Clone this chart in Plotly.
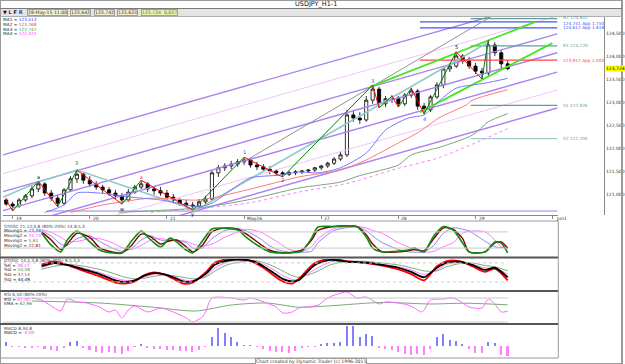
import plotly.graph_objects as go

W, H = 625, 364


def PX(x):
    return x / W


def PY(y):
    return 1 - y / H


# ---------------- data ----------------
# two-hour candles; x = hour index along the chart
bar_hours = list(range(1, 158, 2))
opens = [120.87, 120.78, 120.74, 120.87, 120.96, 121.11, 121.22, 121.02, 120.91, 120.80,
         121.09, 121.33, 121.43, 121.30, 121.22, 121.15, 121.09, 121.02, 120.96, 120.87,
         121.04, 121.15, 121.22, 121.11, 121.07, 121.02, 120.93, 120.87, 120.80, 120.76,
         120.74, 120.83, 120.89, 121.46, 121.57, 121.61, 121.65, 121.70, 121.74, 121.63,
         121.59, 121.54, 121.50, 121.46, 121.43, 121.46, 121.48, 121.50, 121.52, 121.57,
         121.61, 121.67, 121.76, 121.85, 122.72, 122.65, 122.61, 123.04, 123.28, 122.96,
         123.07, 123.09, 122.96, 123.15, 123.24, 122.91, 122.83, 123.11, 123.37, 123.72,
         123.78, 124.00, 123.89, 123.78, 123.67, 123.63, 124.24, 124.07, 123.83]
highs = [120.91, 120.83, 120.91, 121.00, 121.17, 121.28, 121.26, 121.09, 120.98, 121.13,
         121.39, 121.52, 121.48, 121.39, 121.28, 121.20, 121.15, 121.09, 121.02, 121.11,
         121.20, 121.30, 121.26, 121.17, 121.15, 121.09, 121.00, 120.91, 120.87, 120.83,
         120.89, 120.96, 121.52, 121.63, 121.67, 121.72, 121.76, 121.80, 121.78, 121.70,
         121.65, 121.61, 121.54, 121.50, 121.50, 121.52, 121.52, 121.54, 121.59, 121.63,
         121.70, 121.80, 121.91, 122.83, 122.83, 122.78, 123.13, 123.37, 123.33, 123.13,
         123.15, 123.13, 123.20, 123.30, 123.28, 122.98, 123.15, 123.43, 123.78, 123.85,
         124.09, 124.04, 123.98, 123.85, 123.74, 124.35, 124.30, 124.13, 123.91]
lows = [120.74, 120.63, 120.70, 120.83, 120.91, 121.04, 120.96, 120.85, 120.72, 120.76,
        121.04, 121.24, 121.22, 121.15, 121.09, 121.02, 120.96, 120.89, 120.78, 120.83,
        121.00, 121.11, 121.04, 120.98, 120.96, 120.87, 120.80, 120.74, 120.70, 120.65,
        120.70, 120.78, 120.85, 121.37, 121.50, 121.54, 121.59, 121.63, 121.57, 121.52,
        121.50, 121.43, 121.39, 121.37, 121.39, 121.41, 121.43, 121.46, 121.48, 121.52,
        121.57, 121.63, 121.72, 121.80, 122.57, 122.52, 122.57, 122.96, 122.87, 122.89,
        122.98, 122.89, 122.91, 123.09, 122.83, 122.74, 122.78, 123.07, 123.30, 123.65,
        123.74, 123.83, 123.72, 123.61, 123.50, 123.57, 124.00, 123.74, 123.69]
closes = [120.78, 120.74, 120.87, 120.96, 121.11, 121.22, 121.02, 120.91, 120.80, 121.09,
          121.33, 121.43, 121.30, 121.22, 121.15, 121.09, 121.02, 120.96, 120.87, 121.04,
          121.15, 121.22, 121.11, 121.07, 121.02, 120.93, 120.87, 120.80, 120.76, 120.74,
          120.83, 120.89, 121.46, 121.57, 121.61, 121.65, 121.70, 121.74, 121.63, 121.59,
          121.54, 121.50, 121.46, 121.43, 121.46, 121.48, 121.50, 121.52, 121.57, 121.61,
          121.67, 121.76, 121.85, 122.72, 122.65, 122.61, 123.04, 123.28, 122.96, 123.07,
          123.09, 122.96, 123.15, 123.24, 122.91, 122.83, 123.11, 123.37, 123.72, 123.78,
          124.00, 123.89, 123.78, 123.67, 123.63, 124.24, 124.07, 123.83, 123.724]

day_ticks = [3, 27, 51, 75, 99, 123, 147, 171]
day_labels = ["19", "20", "21", "May26", "27", "28", "29", "Jun1"]
price_ticks = [121.0, 121.5, 122.0, 122.5, 123.0, 123.5, 124.0, 124.5]

# moving averages
ma1_x = [13, 19, 23, 30, 40, 49, 57, 61, 65, 71, 77, 86, 92, 98, 105, 113, 119, 126, 131, 135, 141, 150, 157]
ma1_v = [120.60, 120.76, 121.02, 121.02, 120.93, 120.87, 120.76, 120.72, 120.80, 121.09, 121.35, 121.41,
         121.48, 121.46, 121.57, 121.89, 122.39, 122.65, 122.72, 122.98, 123.30, 123.41, 123.513]
ma2_x = [21, 31, 46, 61, 76, 92, 105, 113, 119, 123, 129, 136, 144, 146, 157]
ma2_v = [120.60, 120.76, 120.91, 120.87, 121.09, 121.37, 121.52, 121.74, 121.96, 122.11, 122.33, 122.67,
         122.93, 123.04, 123.268]
ma3_x = [36, 61, 76, 92, 105, 111, 123, 127, 136, 146, 151, 157]
ma3_v = [120.60, 120.70, 120.87, 121.13, 121.26, 121.40, 121.63, 121.85, 122.02, 122.28, 122.57, 122.747]
ma4_x = [46, 76, 92, 105, 111, 121, 136, 157]
ma4_v = [120.60, 120.80, 121.04, 121.20, 121.30, 121.52, 121.80, 122.421]

# trend / channel lines (hour, price)
chan_x = [0, 172.4]
purple_start = [121.85, 121.05, 120.64, 120.23, 119.44]
purple_end = [125.27, 124.48, 124.07, 123.65, 122.87]
pink_start = [121.44, 119.84]
pink_end = [124.87, 123.26]
gch_upper_x = [114.2, 165.6]
gch_upper_v = [123.33, 124.74]
gch_lower_x = [129.7, 170.9]
gch_lower_v = [122.78, 124.28]
gray_x = [75.9, 151.7]
gray_v = [121.74, 124.85]
teal_x = [0, 11, 23, 60, 151]
teal_v = [120.93, 121.26, 121.52, 120.65, 124.30]

zig_x = [1, 3, 11, 17, 23, 37, 43, 59, 75, 87, 115, 117, 121, 123, 127, 131, 141, 149, 151]
zig_v = [120.87, 120.63, 121.28, 120.72, 121.52, 120.78, 121.30, 120.65, 121.80, 121.37,
         123.37, 122.87, 123.13, 122.89, 123.30, 122.74, 124.09, 123.50, 124.35]

swing_x = [11, 23, 37, 43, 59, 75, 87, 115, 131, 141]
swing_v = [121.36, 121.68, 120.68, 121.38, 120.56, 121.92, 121.30, 123.46, 122.64, 124.20]
swing_t = ["a", "3", "w", "x", "y", "1", "2", "3", "4", "5"]
swing_c = ["#000000", "#008000", "#000000", "#ff0000", "#000000", "#3355ff", "#3355ff", "#3355ff",
           "#3355ff", "#000000"]

level_text = ["R2 124,812", "124,741 App 1.750", "124,612 App 1.618", "R1 124,220",
              "123,912 App 1.000", "S1 122,926", "S2 122,204"]
level_v = [124.812, 124.741, 124.612, 124.220, 123.912, 122.926, 122.204]
level_x0 = [145.5, 129.7, 129.7, 145.5, 129.7, 145.5, 145.5]
level_col = ["#5f9ea0", "#4455ee", "#4455ee", "#5f9ea0", "#ff4444", "#5f9ea0", "#a8cccc"]
support_x = [13.6, 172.4]
support_v = [120.63, 120.63]

# stochastic panel
st_x = [12, 15, 18, 20, 23, 27, 30, 34, 37, 40, 43, 46, 49, 52, 54, 57, 59, 62, 65, 69, 73, 76, 80, 83,
        86, 89, 93, 96, 98, 103, 110, 113, 115, 118, 123, 126, 128, 131, 134, 137, 140, 143, 145,
        150, 153, 155, 157]
st_green = [76, 31, 6, 50, 83, 43, 13, 2, 2, 46, 83, 50, 24, 57, 43, 13, 2, 46, 91, 94, 87, 57, 24, 6,
            2, 2, 9, 57, 98, 100, 100, 61, 20, 6, 9, 13, 20, 6, 65, 100, 87, 39, 6, 6, 43, 39, 2]
st_red = [80, 50, 15, 35, 75, 60, 22, 6, 3, 30, 72, 62, 35, 48, 50, 25, 6, 30, 80, 94, 90, 70, 35, 12,
          4, 3, 13, 50, 85, 100, 100, 70, 35, 6, 6, 10, 15, 10, 55, 95, 90, 55, 6, 6, 39, 43, 20]
st_blue = [85, 65, 35, 30, 55, 65, 45, 20, 8, 18, 50, 65, 50, 45, 50, 40, 20, 20, 55, 85, 93, 82, 55, 28,
           12, 5, 5, 8, 40, 85, 98, 85, 65, 40, 15, 6, 5, 6, 30, 75, 95, 90, 83, 45, 25, 22, 20]
st_mag = [88, 78, 60, 45, 45, 55, 55, 40, 22, 15, 30, 50, 55, 50, 48, 45, 35, 28, 35, 60, 80, 90, 80, 60,
          38, 15, 8, 25, 55, 92, 100, 95, 85, 75, 40, 25, 15, 5, 8, 25, 40, 75, 83, 80, 50, 25, 20]

# second oscillator panel
os_x = [12, 16, 21, 25, 30, 35, 38, 41, 44, 47, 50, 53, 56, 59, 63, 66, 70, 75, 78, 81, 84, 87, 90, 92,
        97, 102, 107, 113, 118, 123, 127, 131, 135, 138, 142, 146, 150, 153, 157]
os_black = [70, 80, 72, 60, 45, 25, 20, 25, 40, 48, 45, 35, 22, 22, 45, 75, 88, 90, 85, 70, 50, 30, 22, 26,
            74, 90, 84, 81, 74, 65, 52, 35, 65, 81, 84, 74, 58, 65, 35]
os_red = [75, 85, 70, 55, 38, 18, 15, 22, 42, 50, 44, 30, 15, 18, 50, 82, 92, 92, 82, 65, 42, 22, 15, 30,
          80, 94, 86, 80, 72, 60, 45, 25, 70, 86, 86, 70, 52, 62, 25]
os_green = [60, 70, 75, 70, 60, 45, 35, 30, 32, 38, 42, 40, 35, 30, 35, 55, 75, 85, 88, 82, 70, 55, 40, 35,
            50, 75, 85, 85, 80, 74, 65, 55, 55, 68, 78, 80, 72, 68, 55]
os_mag = [65, 78, 74, 64, 50, 32, 25, 26, 35, 45, 45, 38, 27, 24, 38, 65, 84, 88, 86, 76, 60, 40, 28, 28,
          60, 84, 86, 83, 76, 68, 58, 44, 58, 76, 82, 76, 64, 64, 45]

# RSI panel
rsi_x = [9, 12, 16, 18, 20, 23, 26, 30, 33, 35, 37, 39, 41, 45, 49, 53, 57, 59, 62, 63, 65, 71, 75, 77, 82,
         85, 87, 90, 92, 95, 98, 101, 107, 110, 113, 117, 119, 123, 126, 128, 130, 131, 133, 137, 140, 142,
         145, 149, 151, 153, 155, 157]
rsi_v = [80, 75, 55, 47.5, 77.5, 70, 67.5, 57.5, 45, 50, 30, 50, 60, 45, 55, 45, 30, 20, 32.5, 45, 80, 80,
         75, 80, 67.5, 57.5, 42.5, 45, 55, 58, 62, 80, 95, 80, 82.5, 65, 70, 67.5, 62.5, 55, 45, 50, 75,
         77.5, 80, 72.5, 57.5, 55, 77.5, 65, 45, 47]
ema_x = [9, 30, 46, 60, 71, 82, 92, 101, 113, 119, 133, 144, 157]
ema_v = [72.5, 67.5, 57.5, 47.5, 62.5, 67.5, 57, 60, 67, 69, 65, 67, 62.96]

# MACD histogram (one value per two-hour candle)
macd_hist = [0.04, -0.01, -0.01, -0.02, -0.02, -0.01, -0.03, -0.04, -0.05, -0.02,
             0.04, 0.05, -0.02, -0.04, -0.06, -0.07, -0.06, -0.07, -0.08, -0.05,
             -0.01, 0.02, -0.02, -0.03, -0.03, -0.04, -0.04, -0.05, -0.05, -0.06,
             -0.04, -0.01, 0.09, 0.18, 0.13, 0.09, 0.04, 0.01, 0.01, -0.01,
             -0.03, -0.05, -0.06, -0.06, -0.07, -0.05, -0.02, -0.01, -0.01, 0.02,
             0.03, 0.03, 0.04, 0.20, 0.20, 0.09, 0.12, 0.10, -0.02, -0.03,
             -0.04, -0.06, -0.08, -0.09, -0.08, -0.09, -0.03, 0.09, 0.12, 0.06,
             0.05, 0.02, -0.03, -0.07, -0.07, 0.04, 0.03, -0.09, -0.10]

# ---------------- figure ----------------
fig = go.Figure()
FONT = "DejaVu Sans"


def line(x, y, color, width=1, yaxis="y", dash=None, shape="linear"):
    fig.add_trace(go.Scatter(x=x, y=y, mode="lines", yaxis=yaxis, xaxis="x", hoverinfo="skip",
                             line=dict(color=color, width=width, dash=dash, shape=shape,
                                       smoothing=0.7 if shape == "spline" else None)))


for s, e in zip(pink_start, pink_end):
    line(chan_x, [s, e], "#f0c4f8", 1)
for s, e in zip(purple_start, purple_end):
    line(chan_x, [s, e], "#ab82f2", 1.4)

line(support_x, support_v, "#8585ff", 1)
for t, v, x0, c in zip(level_text, level_v, level_x0, level_col):
    line([x0, chan_x[1]], [v, v], c, 1.2)

line(gray_x, gray_v, "#929292", 1)
line(teal_x, teal_v, "#92caca", 1.6)
line(gch_upper_x, gch_upper_v, "#44e622", 1.8)
line(gch_lower_x, gch_lower_v, "#44e622", 1.8)

line(ma4_x, ma4_v, "#ff78ff", 1, dash="dot", shape="spline")
line(ma3_x, ma3_v, "#78a878", 1, shape="spline")
line(ma2_x, ma2_v, "#ff7878", 1, shape="spline")
line(ma1_x, ma1_v, "#7878ff", 1, shape="spline")

fig.add_trace(go.Candlestick(
    x=bar_hours, open=opens, high=highs, low=lows, close=closes, xaxis="x", yaxis="y",
    increasing=dict(line=dict(color="#000000", width=0.8), fillcolor="#ffffff"),
    decreasing=dict(line=dict(color="#000000", width=0.8), fillcolor="#000000"),
    whiskerwidth=0, hoverinfo="skip"))

# zig-zag swing lines: green for up legs, red for down legs
up_x, up_y, dn_x, dn_y = [], [], [], []
for i in range(len(zig_x) - 1):
    seg_x = [zig_x[i], zig_x[i + 1], None]
    seg_y = [zig_v[i], zig_v[i + 1], None]
    if zig_v[i + 1] > zig_v[i]:
        up_x += seg_x
        up_y += seg_y
    else:
        dn_x += seg_x
        dn_y += seg_y
line(up_x, up_y, "#008000", 1)
line(dn_x, dn_y, "#ff0000", 1)

# stochastic
line(st_x, st_mag, "#ff77ff", 1, yaxis="y2", shape="spline")
line(st_x, st_blue, "#8a8ae6", 1, yaxis="y2", shape="spline")
line(st_x, st_red, "#800000", 1.4, yaxis="y2", shape="spline")
line(st_x, st_green, "#108a10", 1.6, yaxis="y2", shape="spline")

# second oscillator
line(os_x, os_green, "#77b077", 1, yaxis="y3", shape="spline")
line(os_x, os_mag, "#ff77ff", 1, yaxis="y3", shape="spline")
line(os_x, os_red, "#ff0000", 1.8, yaxis="y3", shape="spline")
line(os_x, os_black, "#000000", 1.8, yaxis="y3", shape="spline")

# RSI
line(ema_x, ema_v, "#77aa77", 1, yaxis="y4", shape="spline")
line(rsi_x, rsi_v, "#ff66ff", 1, yaxis="y4", shape="spline")

# MACD histogram
fig.add_trace(go.Bar(x=bar_hours, y=macd_hist, xaxis="x", yaxis="y5", width=0.5, hoverinfo="skip",
                     marker=dict(color=["#8080ff" if v > 0 else "#ff80ff" for v in macd_hist],
                                 line=dict(width=0))))

shapes = []
anns = []

# level lines inside oscillator panels
for lv in (80, 20):
    shapes.append(dict(type="line", xref="x", yref="y2", x0=0, x1=157, y0=lv, y1=lv,
                       line=dict(color="#c8c8c8", width=1)))
    shapes.append(dict(type="line", xref="x", yref="y3", x0=0, x1=157, y0=lv, y1=lv,
                       line=dict(color="#cfcfcf", width=1, dash="dot")))
    shapes.append(dict(type="line", xref="x", yref="y4", x0=0, x1=157, y0=lv, y1=lv,
                       line=dict(color="#c8c8c8", width=1)))

# frame, separators, toolbar
shapes += [
    dict(type="rect", xref="paper", yref="paper", x0=PX(0), x1=PX(625), y0=PY(364), y1=PY(0),
         line=dict(color="#9a9a9a", width=2)),
    dict(type="rect", xref="paper", yref="paper", x0=PX(1), x1=PX(624), y0=PY(16), y1=PY(9),
         fillcolor="#e4e4e4", line=dict(width=0)),
    dict(type="line", xref="paper", yref="paper", x0=0, x1=1, y0=PY(8.5), y1=PY(8.5),
         line=dict(color="#7a7a7a", width=1)),
    dict(type="line", xref="paper", yref="paper", x0=0, x1=1, y0=PY(16.5), y1=PY(16.5),
         line=dict(color="#b0b0b0", width=1)),
    dict(type="line", xref="paper", yref="paper", x0=PX(0), x1=PX(561), y0=PY(221), y1=PY(221),
         line=dict(color="#9a9a9a", width=1)),
    dict(type="line", xref="paper", yref="paper", x0=PX(0), x1=PX(561), y0=PY(257.5), y1=PY(257.5),
         line=dict(color="#555555", width=2)),
    dict(type="line", xref="paper", yref="paper", x0=PX(0), x1=PX(561), y0=PY(291), y1=PY(291),
         line=dict(color="#555555", width=2)),
    dict(type="line", xref="paper", yref="paper", x0=PX(0), x1=PX(561), y0=PY(324), y1=PY(324),
         line=dict(color="#555555", width=2)),
    dict(type="line", xref="paper", yref="paper", x0=PX(0), x1=PX(561), y0=PY(358), y1=PY(358),
         line=dict(color="#9a9a9a", width=1)),
    dict(type="line", xref="paper", yref="paper", x0=PX(561), x1=PX(561), y0=PY(358), y1=PY(221),
         line=dict(color="#9a9a9a", width=1)),
]


def txt(x, y, s, color="#222222", size=4.3, anchor="left", bg=None, border=None):
    anns.append(dict(xref="paper", yref="paper", x=PX(x), y=PY(y), text=s, showarrow=False,
                     xanchor=anchor, yanchor="middle", font=dict(size=size, color=color, family=FONT),
                     bgcolor=bg, bordercolor=border, borderwidth=1 if border else 0, borderpad=0))


txt(318, 4.5, "USDJPY_H1-1", "#111111", 6.5, "center")
txt(3, 12.5, "<b>▼ <span style='color:#cc0000'>L</span> F <span style='color:#2244cc'>R</span></b>",
    "#111111", 5)
txt(27, 12.5, "28-May-15 11:00", "#333333", 4.6, bg="#f2efd2", border="#a0a0a0")
txt(70, 12.5, "123,642", "#333333", 4.6, bg="#f2efd2", border="#a0a0a0")
txt(94, 12.5, "123,742", "#333333", 4.6, bg="#f2efd2", border="#a0a0a0")
txt(118, 12.5, "123,623", "#333333", 4.6, bg="#f2efd2", border="#a0a0a0")
txt(142, 12.5, "123,724  0,027", "#2a8a2a", 4.6, bg="#eef0b8", border="#a0a0a0")

txt(3, 19.5, "MA1 = <span style='color:#3333ff'>123,513</span>")
txt(3, 24.3, "MA2 = <span style='color:#ff3333'>123,268</span>")
txt(3, 29.1, "MA3 = <span style='color:#339933'>122,747</span>")
txt(3, 33.9, "MA4 = <span style='color:#ff33ff'>122,421</span>")

txt(4, 226, "STOSC 21,12,0,8 (80%-20%) 14,8,5,3", "#444444")
txt(4, 230.8, "Moving1 = <span style='color:#3333ff'>23,08</span>")
txt(4, 235.6, "Moving2 = <span style='color:#ff33ff'>24,73</span>")
txt(4, 240.4, "Moving1 = <span style='color:#2a8a2a'>5,61</span>")
txt(4, 245.2, "Moving2 = <span style='color:#aa0000'>22,81</span>")

txt(4, 260.5, "DTOSC 14,5,3,8 (80%-20%) 8,5,3,4", "#444444")
txt(4, 265.2, "%K = <span style='color:#ff33ff'>39,27</span>")
txt(4, 269.9, "%D = <span style='color:#2a8a2a'>55,59</span>")
txt(4, 274.6, "%D = <span style='color:#ff0000'>37,14</span>")
txt(4, 279.3, "%D = <span style='color:#000000'>44,49</span>")

txt(4, 294.5, "RSI 6,50 (80%-20%)", "#444444")
txt(4, 299.2, "RSI = <span style='color:#ff33ff'>47,00</span>")
txt(4, 303.9, "EMA = <span style='color:#2a8a2a'>62,96</span>")

txt(4, 328, "MACD 8,34,8", "#444444")
txt(4, 332.7, "MACD = <span style='color:#ff33ff'>-0,00</span>")

txt(312, 361, "Chart created by Dynamic Trader (c) 1996-2011", "#333333", 4.6, "center",
    bg="#ffffff", border="#9a9a9a")

# level labels at the right of the drawing area
label_shift = [1.5, -1.5, 0, 0, 0, 0, 0]
for t, v, c, sh in zip(level_text, level_v, level_col, label_shift):
    anns.append(dict(xref="paper", yref="y", x=PX(564), y=v, text=t, showarrow=False,
                     xanchor="left", yanchor="middle", yshift=sh,
                     font=dict(size=4.3, color=c if c != "#a8cccc" else "#5f9ea0", family=FONT)))

# current price marker on the axis
anns.append(dict(xref="paper", yref="y", x=PX(607.5), y=closes[-1], text="123,724", showarrow=False,
                 xanchor="left", yanchor="middle", bgcolor="#ffff00", borderpad=0,
                 font=dict(size=4.5, color="#000000", family=FONT)))

# date labels
for t, lab in zip(day_ticks, day_labels):
    anns.append(dict(xref="x", yref="paper", x=t, y=PY(218.5), text=lab, showarrow=False,
                     xanchor="left", yanchor="middle", xshift=1,
                     font=dict(size=4.5, color="#333333", family=FONT)))

# swing labels
for x, v, t, c in zip(swing_x, swing_v, swing_t, swing_c):
    anns.append(dict(xref="x", yref="y", x=x, y=v, text=t, showarrow=False,
                     font=dict(size=5, color=c, family=FONT)))

price_lo = 125.2174 - 215 / 46
price_hi = 125.2174 - 17 / 46

fig.update_layout(
    width=W, height=H, margin=dict(l=0, r=0, t=0, b=0),
    paper_bgcolor="#ffffff", plot_bgcolor="#ffffff", showlegend=False,
    separators=",.", bargap=0,
    shapes=shapes, annotations=anns,
    xaxis=dict(domain=[PX(3), PX(561)], range=[0, 172.75], anchor="y", showline=True,
               linecolor="#8a8a8a", linewidth=1, ticks="outside", ticklen=3, tickcolor="#8a8a8a",
               tickvals=day_ticks, showticklabels=False, showgrid=False, zeroline=False,
               rangeslider=dict(visible=False)),
    yaxis=dict(domain=[PY(215), PY(17)], range=[price_lo, price_hi], anchor="free",
               position=PX(607), side="right", showline=True, linecolor="#8a8a8a", linewidth=1,
               tickvals=price_ticks, tickformat=".3f", ticks="", showgrid=False, zeroline=False,
               tickfont=dict(size=4.5, color="#333333", family=FONT)),
    yaxis2=dict(domain=[PY(256), PY(222)], range=[-9.3, 116.7], anchor="x", visible=False),
    yaxis3=dict(domain=[PY(290), PY(259)], range=[-5.4, 92.7], anchor="x", visible=False),
    yaxis4=dict(domain=[PY(323), PY(292)], range=[17.5, 95], anchor="x", visible=False),
    yaxis5=dict(domain=[PY(357), PY(325)], range=[-0.11, 0.21], anchor="x", visible=False),
)

fig.write_html("out.html")
